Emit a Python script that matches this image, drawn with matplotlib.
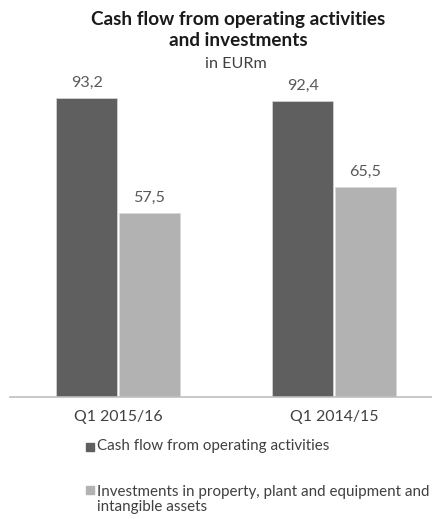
import matplotlib
matplotlib.use("Agg")
import matplotlib.pyplot as plt
from matplotlib.patches import Rectangle
import numpy as np

categories = ["Q1 2015/16", "Q1 2014/15"]
series_names = ["Cash flow from operating activities",
                "Investments in property, plant and equipment and\nintangible assets"]
cash_flow = [93.2, 92.4]
investments = [57.5, 65.5]
colors = ["#5f5f5f", "#b2b2b2"]

W, H = 432, 519
fig = plt.figure(figsize=(W / 100, H / 100), dpi=100)
plt.rcParams['font.family'] = ['Lato', 'DejaVu Sans']

# axes placement in pixels
left_px, right_px = 10, 442
base_px, top_px = 397, 98
ax = fig.add_axes([left_px / W, (H - base_px) / H, (right_px - left_px) / W, (base_px - 60) / H])

x = np.arange(len(categories))
bw = 0.282
off = 0.145
vals = [cash_flow, investments]
for i, (v, c) in enumerate(zip(vals, colors)):
    pos = x + (-off if i == 0 else off)
    bars = ax.bar(pos, v, width=bw, color=c, edgecolor="#d9d9d9", linewidth=0.5)
    for b, val in zip(bars, v):
        ax.text(b.get_x() + b.get_width() / 2, val + 4.6, f"{val:.1f}".replace(".", ","),
                ha="center", va="center", fontsize=11.6, color="#595959")

ax.set_xlim(-0.5, 1.5)
ppu = (base_px - top_px) / 93.2
ax.set_ylim(0, (base_px - 60) / ppu)
for s in ["top", "right", "left"]:
    ax.spines[s].set_visible(False)
ax.spines["bottom"].set_color("#bfbfbf")
ax.spines["bottom"].set_linewidth(1.2)
ax.set_yticks([])
ax.set_xticks(x)
ax.set_xticklabels(categories, fontsize=11.4, color="#404040")
ax.tick_params(axis="x", length=0, pad=9)

fig.text(238 / W, 1 - 30 / H, "Cash flow from operating activities\nand investments",
         ha="center", va="center", fontsize=13.6, fontweight="bold", color="#1a1a1a",
         linespacing=1.25)
fig.text(236 / W, 1 - 64 / H, "in EURm", ha="center", va="center", fontsize=11.6, color="#404040")

# legend (square centre y, text top y) in pixels
square_y = [447, 490]
text_top = [439, 485]
for name, c, sy, ty in zip(series_names, colors, square_y, text_top):
    fig.patches.append(Rectangle((86 / W, 1 - (sy + 4) / H), 8 / W, 8 / H,
                                 transform=fig.transFigure, color=c, figure=fig))
    fig.text(97 / W, 1 - ty / H, name, ha="left", va="top",
             fontsize=10.9, color="#404040", linespacing=1.1)

fig.savefig("out.png", dpi=100)
